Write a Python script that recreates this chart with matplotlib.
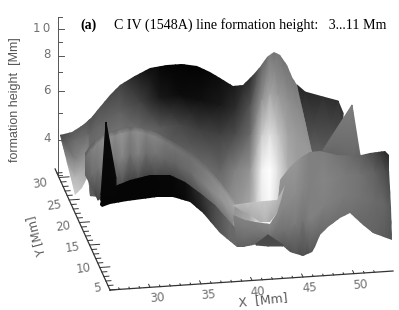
import matplotlib
matplotlib.use('Agg')
import matplotlib.pyplot as plt
from matplotlib.patches import Polygon
import numpy as np

# projected surface, screen positions of the grid columns and rows, grey level per node
wedge_x = [297, 305, 323, 338, 343]
wedge_y = [[85, 92, 97, 101, 113], [155, 155, 155, 150, 130]]
wedge_g = [[0.15, 0.16, 0.18, 0.18, 0.2], [0.38, 0.38, 0.38, 0.35, 0.3]]

main_outline = [(60, 135), (72, 132), (83, 125), (91, 118), (100, 107), (110, 95), (120, 85), (133, 77),
                (150, 68), (167, 65), (182, 64), (197, 66), (210, 72), (220, 78), (233, 86), (243, 85),
                (253, 75), (260, 67), (267, 57), (274, 52), (280, 55), (287, 65), (292, 77), (297, 85),
                (312, 152), (312, 165), (300, 200), (290, 222), (278, 228), (262, 235), (235, 240),
                (220, 225), (200, 205), (160, 190), (140, 190), (103, 205), (98, 197), (90, 196),
                (88, 176), (82, 188), (75, 195)]
main_x = [60, 75, 88, 90, 100, 120, 140, 160, 180, 200, 220, 235, 250, 262, 270, 278, 288, 297, 312]
main_y = [
    [125, 120, 115, 115, 100, 78, 62, 55, 55, 60, 70, 76, 70, 50, 42, 42, 55, 75, 140],
    [135, 140, 135, 135, 125, 112, 102, 98, 95, 100, 105, 110, 105, 100, 95, 95, 100, 110, 155],
    [140, 160, 152, 150, 140, 138, 132, 128, 125, 130, 135, 135, 135, 135, 135, 135, 135, 135, 158],
    [150, 178, 165, 170, 165, 165, 165, 165, 160, 165, 170, 170, 170, 170, 170, 170, 170, 165, 162],
    [170, 200, 185, 200, 210, 200, 195, 195, 195, 210, 235, 245, 245, 240, 240, 235, 230, 210, 170],
]
main_g = [
    [0.25, 0.3, 0.3, 0.3, 0.3, 0.24, 0.05, 0.0, 0.0, 0.0, 0.04, 0.08, 0.14, 0.33, 0.42, 0.42, 0.42, 0.45, 0.6],
    [0.28, 0.42, 0.42, 0.4, 0.4, 0.38, 0.26, 0.1, 0.05, 0.06, 0.1, 0.18, 0.32, 0.58, 0.66, 0.6, 0.56, 0.55, 0.6],
    [0.35, 0.52, 0.55, 0.42, 0.44, 0.48, 0.44, 0.36, 0.28, 0.25, 0.26, 0.3, 0.42, 0.8, 0.88, 0.78, 0.64, 0.6, 0.6],
    [0.5, 0.72, 0.6, 0.38, 0.4, 0.45, 0.42, 0.42, 0.42, 0.42, 0.4, 0.5, 0.58, 0.95, 1.0, 0.88, 0.68, 0.62, 0.6],
    [0.7, 0.85, 0.72, 0.35, 0.35, 0.4, 0.45, 0.5, 0.55, 0.6, 0.62, 0.65, 0.72, 0.9, 0.95, 0.82, 0.65, 0.58, 0.6],
]

arch_outline = [(85, 153), (90, 146), (98, 138), (110, 132), (122, 128), (135, 127), (155, 132), (175, 143),
                (190, 152), (205, 165), (220, 182), (235, 202), (233, 225), (205, 205), (100, 205), (85, 175)]
arch_x = [85, 92, 98, 106, 115, 122, 130, 138, 146, 155, 165, 175, 190, 205, 220, 235]
arch_y = [
    [146, 140, 132, 128, 124, 122, 120, 120, 122, 125, 130, 136, 145, 158, 175, 195],
    [158, 150, 143, 138, 136, 134, 132, 132, 134, 137, 142, 148, 157, 170, 187, 207],
    [180, 176, 170, 165, 160, 158, 155, 155, 155, 155, 160, 165, 172, 185, 198, 215],
    [205, 204, 200, 192, 186, 183, 180, 178, 176, 176, 177, 178, 188, 200, 215, 230],
]
arch_g = [
    [0.3, 0.3, 0.28, 0.28, 0.28, 0.28, 0.26, 0.26, 0.28, 0.3, 0.3, 0.3, 0.32, 0.36, 0.42, 0.5],
    [0.42, 0.5, 0.52, 0.58, 0.53, 0.58, 0.5, 0.56, 0.5, 0.52, 0.47, 0.45, 0.44, 0.48, 0.56, 0.66],
    [0.35, 0.42, 0.45, 0.52, 0.46, 0.52, 0.44, 0.5, 0.42, 0.45, 0.4, 0.38, 0.42, 0.5, 0.58, 0.62],
    [0.2, 0.24, 0.26, 0.32, 0.3, 0.32, 0.26, 0.3, 0.26, 0.28, 0.26, 0.28, 0.3, 0.36, 0.42, 0.5],
]

band_outline = [(100, 205), (103, 190), (115, 186), (130, 180), (150, 175), (170, 175), (185, 182), (200, 193),
                (215, 205), (230, 222), (245, 238), (245, 247), (237, 247), (220, 233), (203, 213), (190, 202),
                (173, 197), (157, 197), (150, 198), (127, 201), (110, 204), (102, 207)]
band_x = [95, 115, 130, 150, 170, 185, 200, 215, 230, 250]
band_y = [
    [175, 175, 170, 165, 165, 172, 183, 195, 212, 230],
    [215, 213, 210, 207, 206, 211, 218, 240, 250, 255],
]
band_g = [
    [0.03, 0.02, 0.02, 0.02, 0.03, 0.06, 0.2, 0.3, 0.42, 0.42],
    [0.03, 0.02, 0.02, 0.02, 0.02, 0.03, 0.1, 0.3, 0.4, 0.42],
]

spike_x = [101, 106, 116]
spike_y = [[195, 122, 178], [200, 200, 200]]
spike_g = [[0.04, 0.04, 0.04], [0.02, 0.02, 0.02]]

peak_x = [323, 352, 360]
peak_y = [[150, 105, 155], [160, 160, 160]]
peak_g = [[0.42, 0.5, 0.42], [0.38, 0.4, 0.38]]

front_outline = [(233, 215), (245, 220), (255, 222), (270, 224), (277, 213), (280, 180), (290, 167), (300, 158),
                 (310, 152), (320, 151), (337, 155), (357, 156), (370, 153), (385, 151), (389, 155), (389, 170),
                 (391, 207), (392, 240), (373, 233), (363, 225), (350, 213), (340, 218), (328, 227), (320, 235),
                 (315, 247), (312, 252), (303, 256), (290, 252), (282, 245), (270, 245), (258, 244), (243, 247),
                 (237, 247)]
front_x = [230, 243, 258, 270, 284, 295, 303, 310, 325, 345, 360, 375, 385, 395]
front_y = [
    [205, 205, 205, 205, 165, 155, 148, 140, 140, 145, 145, 142, 140, 140],
    [225, 228, 230, 230, 210, 195, 190, 185, 180, 175, 175, 172, 170, 175],
    [240, 240, 238, 238, 232, 225, 222, 220, 205, 195, 198, 200, 205, 210],
    [255, 255, 255, 255, 255, 260, 262, 260, 245, 225, 230, 242, 245, 250],
]
front_g = [
    [0.55, 0.55, 0.58, 0.6, 0.6, 0.6, 0.55, 0.5, 0.48, 0.42, 0.35, 0.22, 0.1, 0.08],
    [0.46, 0.48, 0.48, 0.5, 0.52, 0.55, 0.52, 0.5, 0.52, 0.48, 0.45, 0.38, 0.3, 0.22],
    [0.4, 0.42, 0.42, 0.42, 0.44, 0.48, 0.45, 0.5, 0.5, 0.48, 0.45, 0.42, 0.4, 0.32],
    [0.34, 0.35, 0.32, 0.32, 0.3, 0.3, 0.28, 0.3, 0.38, 0.42, 0.4, 0.38, 0.35, 0.32],
]

arch2_x = [256, 268, 283]
arch2_y = [[244, 235, 245], [245, 246, 246]]
arch2_g = [[0.3, 0.28, 0.3], [0.3, 0.3, 0.3]]

bowl_outline = [(233, 205), (253, 202), (277, 200), (285, 185), (281, 200), (277, 213), (270, 222), (260, 222),
                (250, 215), (240, 210)]
bowl_x = [230, 243, 253, 265, 275, 288]
bowl_y = [[198, 198, 198, 198, 190, 180], [215, 220, 225, 228, 225, 205]]
bowl_g = [[0.8, 0.78, 0.78, 0.8, 0.8, 0.68], [0.58, 0.58, 0.64, 0.68, 0.6, 0.58]]

# axis ticks
z_major = [4, 6, 8, 10]
z_minor = [3, 5, 7, 9, 11]
y_major = [5, 10, 15, 20, 25, 30]
x_major = [30, 35, 40, 45, 50]
x_lab_pos = [(157, 298), (208, 295), (258, 292), (310, 288), (360, 285)]
y_lab_pos = [(97, 288), (84, 268), (73, 247), (63, 226), (54, 205), (40, 184)]
z_lab_pos = [(47, 139), (47, 91), (47, 55), (42, 28)]
z_labels = ['4', '6', '8', '1\u20090']


def zpix(z):
    return 29 + np.log10(10 / z) * 279


def xpix(x):
    px = 150 + (x - 30) * 10.2
    return px, 290 - (px - 110) * 0.0671


def ypix(y):
    return 110 - (y - 5) * 2.04, 290 - (y - 5) * 4.5


def patch(ax, xs, ys, gs, outline=None):
    X = np.tile(np.array(xs, dtype=float), (len(ys), 1))
    m = ax.pcolormesh(X, np.array(ys, dtype=float), np.array(gs), shading='gouraud', cmap='gray', vmin=0, vmax=1)
    if outline is not None:
        m.set_clip_path(Polygon(outline, closed=True, transform=ax.transData))


fig = plt.figure(figsize=(3.99, 3.10), dpi=100)
ax = fig.add_axes([0, 0, 1, 1])

patch(ax, wedge_x, wedge_y, wedge_g)
patch(ax, main_x, main_y, main_g, main_outline)
patch(ax, arch_x, arch_y, arch_g, arch_outline)
patch(ax, band_x, band_y, band_g, band_outline)
patch(ax, spike_x, spike_y, spike_g)
patch(ax, peak_x, peak_y, peak_g)
patch(ax, front_x, front_y, front_g, front_outline)
patch(ax, arch2_x, arch2_y, arch2_g)
patch(ax, bowl_x, bowl_y, bowl_g, bowl_outline)

axcol = '#555555'
lw = 0.7
# vertical axis
ax.plot([58, 58], [zpix(11), zpix(3)], color=axcol, lw=lw)
for z in z_major:
    ax.plot([58, 64], [zpix(z), zpix(z)], color=axcol, lw=lw)
for z in z_minor:
    ax.plot([58, 62], [zpix(z), zpix(z)], color=axcol, lw=lw)
# y axis
ax.plot([ypix(4.9)[0], ypix(31.9)[0]], [ypix(4.9)[1], ypix(31.9)[1]], color='#333333', lw=lw + 0.2)
for y in range(5, 32):
    px, py = ypix(y)
    n = 10 if y in y_major else 5
    ax.plot([px, px + n], [py, py - n * 0.067], color='#333333', lw=lw)
# x axis
ax.plot([110, 393], [290, 290 - 283 * 0.0671], color='#333333', lw=lw + 0.2)
for x in range(27, 53):
    px, py = xpix(x)
    n = 3 if x in x_major else 1.5
    ax.plot([px, px - n * 0.45], [py, py - n], color='#333333', lw=lw)

txtcol = '#707070'
for lab, (px, py) in zip(z_labels, z_lab_pos):
    ax.text(px, py, lab, ha='center', va='center', fontsize=8.5, color=txtcol)
for val, (px, py) in zip(y_major, y_lab_pos):
    ax.text(px, py, str(val), ha='center', va='center', fontsize=8.5, color=txtcol, rotation=8)
for val, (px, py) in zip(x_major, x_lab_pos):
    ax.text(px, py, str(val), ha='center', va='center', fontsize=8.5, color=txtcol, rotation=4)

ax.text(15, 100, 'formation height  [Mm]', rotation=90, ha='center', va='center',
        fontsize=9, color='#555555', family='Liberation Sans')
ax.text(36, 236, 'Y [Mm]', rotation=105, ha='center', va='center', fontsize=8.5, color='#5a5a5a')
ax.text(263, 300, 'X  [Mm]', rotation=6, ha='center', va='center', fontsize=9, color='#5a5a5a')

ax.text(80, 25.5, '(a)', fontsize=10, fontweight='bold', family='Liberation Serif', va='center', ha='left')
ax.text(114, 25.5, 'C IV (1548A) line formation height:   3...11 Mm', fontsize=10.1,
        family='Liberation Serif', va='center', ha='left')

ax.set_xlim(0, 399)
ax.set_ylim(310, 0)
ax.axis('off')

plt.savefig('out.png', dpi=100)
